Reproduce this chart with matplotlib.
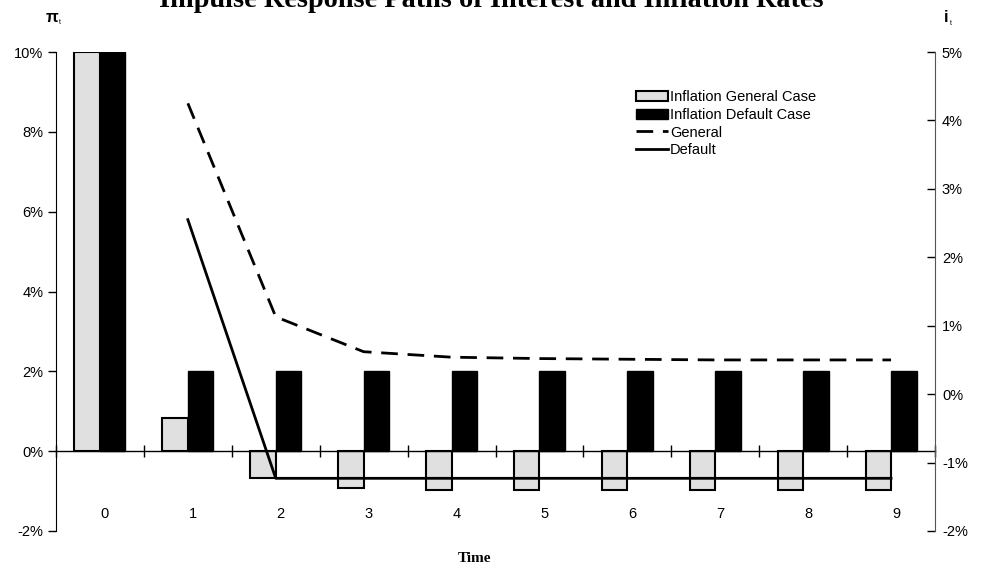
import matplotlib
matplotlib.use('Agg')
import matplotlib.pyplot as plt
import numpy as np
from matplotlib.ticker import FuncFormatter
from matplotlib.transforms import ScaledTranslation

plt.rcParams['font.family'] = ['Liberation Sans', 'DejaVu Sans']
plt.rcParams['font.size'] = 10.5

# donnees (en %)
periods = [0, 1, 2, 3, 4, 5, 6, 7, 8, 9]
infl_general = [10, 0.82, -0.68, -0.93, -0.98, -0.98, -0.98, -0.98, -0.98, -0.98]
infl_default = [10, 2, 2, 2, 2, 2, 2, 2, 2, 2]
rate_general = [np.nan, 4.25, 1.13, 0.62, 0.54, 0.52, 0.51, 0.50, 0.50, 0.50]
rate_default = [np.nan, 2.55, -1.23, -1.23, -1.23, -1.23, -1.23, -1.23, -1.23, -1.23]

pct = FuncFormatter(lambda v, pos: '%d%%' % v)

fig = plt.figure(figsize=(9.82, 5.69), dpi=100)
ax = fig.add_axes([56/982, 38/569, 879/982, 479/569])

x = np.arange(len(periods))
w = 0.29
ax.bar(x - w/2, infl_general, w, color='#e0e0e0', edgecolor='black', linewidth=1.5,
       label='Inflation General Case', zorder=2)
ax.bar(x + w/2, infl_default, w, color='black', edgecolor='black', linewidth=1.0,
       label='Inflation Default Case', zorder=2)

ax.set_xlim(-0.5, 9.5)
ax.set_ylim(-2, 10)
ax.set_yticks(range(-2, 11, 2))
ax.yaxis.set_major_formatter(pct)
ax.tick_params(axis='y', direction='out', length=6, width=1, pad=3)

# axe des x au niveau du 0% de gauche
ax.spines['top'].set_visible(False)
ax.spines['right'].set_visible(False)
ax.spines['bottom'].set_position(('data', 0))
ax.spines['bottom'].set_linewidth(1)
ax.set_xticks(x)
ax.set_xticklabels([str(p) for p in periods])
ax.tick_params(axis='x', which='major', length=0, pad=40)
ax.set_xticks(np.arange(-0.5, 10, 1), minor=True)
ax.tick_params(axis='x', which='minor', direction='inout', length=8, width=1)
decal = ScaledTranslation(5/100, 0, fig.dpi_scale_trans)
for lbl in ax.get_xticklabels():
    lbl.set_transform(lbl.get_transform() + decal)

ax2 = ax.twinx()
ax2.plot(x, rate_general, color='black', linestyle=(0, (6, 3.5)), linewidth=2, label='General')
ax2.plot(x, rate_default, color='black', linestyle='-', linewidth=2, label='Default')
ax2.set_ylim(-2, 5)
ax2.set_yticks(range(-2, 6))
ax2.yaxis.set_major_formatter(pct)
ax2.tick_params(axis='y', direction='in', length=6, width=1, pad=5)
for s in ['top', 'left', 'bottom']:
    ax2.spines[s].set_visible(False)
ax2.spines['right'].set_color('#555555')

h1, l1 = ax.get_legend_handles_labels()
h2, l2 = ax2.get_legend_handles_labels()
ax2.legend(h1 + h2, l1 + l2, loc='upper left', bbox_to_anchor=(629/982, 1 - 83/569),
           bbox_transform=fig.transFigure, frameon=False, handlelength=2.2,
           handletextpad=0.1, labelspacing=0.25, borderpad=0, fontsize=10.5)

# titres (le titre est coupe en haut comme sur l'original)
fig.text(491/982, 1 - 7/569, 'Impulse Response Paths of Interest and Inflation Rates',
         ha='center', va='baseline', fontsize=20.3, fontweight='bold', family='Liberation Serif')
fig.text(475/982, 1 - 562/569, 'Time', ha='center', va='baseline', fontsize=11,
         fontweight='bold', family='Liberation Serif')
fig.text(52/982, 1 - 22/569, 'π', ha='center', va='baseline', fontsize=12, fontweight='bold')
fig.text(60/982, 1 - 24/569, 't', ha='center', va='baseline', fontsize=5)
fig.text(946/982, 1 - 22/569, 'i', ha='center', va='baseline', fontsize=12, fontweight='bold')
fig.text(951/982, 1 - 25/569, 't', ha='center', va='baseline', fontsize=5)

fig.savefig('out.png', dpi=100)
